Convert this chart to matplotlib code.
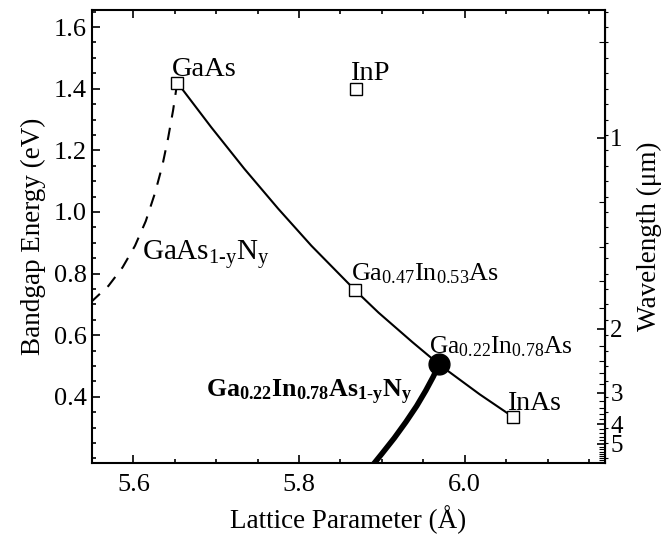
import numpy as np
import matplotlib
matplotlib.use("Agg")
import matplotlib.pyplot as plt
from matplotlib.ticker import MultipleLocator, FixedLocator, NullFormatter

plt.rcParams["font.family"] = ["Liberation Serif", "DejaVu Serif"]
plt.rcParams["mathtext.fontset"] = "custom"
plt.rcParams["mathtext.rm"] = "Liberation Serif"
plt.rcParams["mathtext.it"] = "Liberation Serif:italic"
plt.rcParams["mathtext.bf"] = "Liberation Serif:bold"

# binary compounds (lattice parameter in A, bandgap in eV)
bin_names = ["GaAs", "InP", "Ga0.47In0.53As", "InAs"]
bin_a = [5.653, 5.869, 5.868, 6.058]
bin_E = [1.42, 1.40, 0.745, 0.335]

# GaInAs curve
gainas_a = [5.653, 5.694, 5.734, 5.775, 5.815, 5.868, 5.896, 5.937, 5.969, 6.018, 6.058]
gainas_E = [1.42, 1.275, 1.14, 1.01, 0.89, 0.745, 0.673, 0.577, 0.505, 0.408, 0.335]

# GaAsN curve (dashed)
gaasn_a = [5.653, 5.648, 5.642, 5.635, 5.626, 5.615, 5.602, 5.587, 5.570, 5.550]
gaasn_E = [1.42, 1.33, 1.24, 1.15, 1.06, 0.97, 0.89, 0.82, 0.76, 0.71]

# GaInAsN curve (thick)
gainasn_a = [5.969, 5.962, 5.953, 5.942, 5.929, 5.915, 5.900, 5.885]
gainasn_E = [0.505, 0.465, 0.42, 0.37, 0.318, 0.266, 0.215, 0.165]

# Ga0.22In0.78As point
pt_a = 5.969
pt_E = 0.505

wl_major = [1, 2, 3, 4, 5]
wl_minor = [0.8, 1.2, 1.4, 1.6, 1.8, 2.2, 2.4, 2.6, 2.8, 3.2, 3.4, 3.6, 3.8,
            4.2, 4.4, 4.6, 4.8, 5.2, 5.4, 5.6, 5.8, 6.0, 6.2, 6.4, 6.6]

fig = plt.figure(figsize=(6.66, 5.34), dpi=100)
ax = fig.add_axes([0.138, 0.133, 0.770, 0.848])

ax.plot(gainas_a, gainas_E, color="black", lw=1.5)
ax.plot(gaasn_a, gaasn_E, color="black", lw=1.5, ls=(0, (6, 5)))
ax.plot(gainasn_a, gainasn_E, color="black", lw=4, solid_capstyle="butt", solid_joinstyle="round")
ax.plot(bin_a, bin_E, ls="none", marker="s", ms=9, mfc="white", mec="black", mew=1)
ax.plot([pt_a], [pt_E], ls="none", marker="o", ms=15, color="black")

ax.set_xlim(5.55, 6.169)
ax.set_ylim(0.185, 1.655)

ax.xaxis.set_minor_locator(MultipleLocator(0.05))
ax.yaxis.set_minor_locator(MultipleLocator(0.05))
ax.set_xticks([5.6, 5.8, 6.0])
ax.set_xticklabels(["5.6", "5.8", "6.0"])
ax.set_yticks([0.4, 0.6, 0.8, 1.0, 1.2, 1.4, 1.6])
ax.set_yticklabels(["0.4", "0.6", "0.8", "1.0", "1.2", "1.4", "1.6"])

ax.tick_params(which="both", direction="in", top=True, right=False, labelsize=19, width=1.2)
ax.tick_params(which="major", length=6)
ax.tick_params(which="minor", length=3)
ax.tick_params(axis="x", pad=8)
for s in ax.spines.values():
    s.set_linewidth(1.5)

ax.set_xlabel("Lattice Parameter (Å)", fontsize=19.5, labelpad=7)
ax.set_ylabel("Bandgap Energy (eV)", fontsize=19.5, labelpad=6)

# wavelength axis
sec = ax.secondary_yaxis("right", functions=(lambda e: 1.24 / np.clip(e, 1e-3, None),
                                              lambda w: 1.24 / np.clip(w, 1e-3, None)))
sec.yaxis.set_major_locator(FixedLocator(wl_major))
sec.yaxis.set_minor_locator(FixedLocator(wl_minor))
sec.yaxis.set_minor_formatter(NullFormatter())
sec.set_yticklabels([str(w) for w in wl_major])
sec.tick_params(which="both", direction="in", labelsize=18)
sec.tick_params(which="major", length=6, width=1.2, pad=4)
sec.tick_params(which="minor", length=4, width=0.8)
sec.set_ylabel("Wavelength (μm)", fontsize=19.5, labelpad=10)

# mirrored energy ticks on the right side
mir = ax.secondary_yaxis("right")
mir.yaxis.set_major_locator(MultipleLocator(0.2))
mir.yaxis.set_minor_locator(MultipleLocator(0.05))
mir.tick_params(which="both", direction="out", length=2, width=0.8, labelright=False)
mir.spines["right"].set_visible(False)

# labels
ax.text(5.647, 1.44, "GaAs", fontsize=20.5)
ax.text(5.861, 1.428, "InP", fontsize=20.5)
ax.text(5.61, 0.843, r"$\mathrm{GaAs_{1\text{-}y}N_y}$", fontsize=21)
ax.text(5.863, 0.778, r"$\mathrm{Ga_{0.47}In_{0.53}As}$", fontsize=18.8)
ax.text(5.957, 0.541, r"$\mathrm{Ga_{0.22}In_{0.78}As}$", fontsize=18.3)
ax.text(6.052, 0.356, "InAs", fontsize=20)
ax.text(5.688, 0.399, r"$\mathbf{Ga_{0.22}In_{0.78}As_{1\text{-}y}N_y}$", fontsize=18.6)

fig.savefig("out.png", dpi=100)
